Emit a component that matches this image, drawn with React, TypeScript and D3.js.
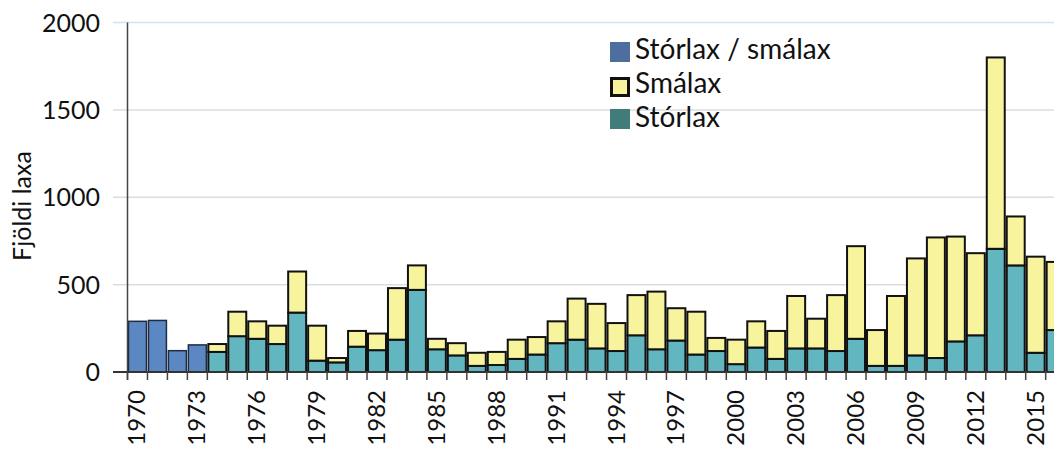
import React from "react";
import * as d3 from "d3";

const years = d3.range(1970, 2017);
// combined (Stórlax / smálax) for early years
const combined = [290, 295, 122, 155];
const storlax = [
  0, 0, 0, 0, 115, 205, 190, 160, 340, 65, 55, 145, 125, 185, 470, 130, 95, 35, 40, 75,
  100, 165, 185, 135, 120, 210, 130, 180, 100, 120, 45, 140, 75, 135, 135, 120, 190, 35, 35, 95,
  80, 175, 210, 705, 610, 110, 240,
];
const smalax = [
  0, 0, 0, 0, 45, 140, 100, 105, 235, 200, 25, 90, 95, 295, 140, 60, 70, 75, 75, 110,
  100, 125, 235, 255, 160, 230, 330, 185, 245, 75, 140, 150, 160, 300, 170, 320, 530, 205, 400, 555,
  690, 600, 470, 1095, 280, 550, 390,
];
const yTicks = [0, 500, 1000, 1500, 2000];
const xLabelYears = years.filter((y) => (y - 1970) % 3 === 0);
const legendItems = ["Stórlax / smálax", "Smálax", "Stórlax"];

const W = 1054;
const H = 450;
const left = 127.5;
const step = 19.96;
const FONT = "Lato, 'Open Sans', sans-serif";

const colBlue = "#5b88c2";
const colTeal = "#62b6bf";
const colYellow = "#f8f49e";

export default function App() {
  const x = d3
    .scaleBand<number>()
    .domain(years)
    .range([left, left + years.length * step])
    .paddingInner(0.1)
    .paddingOuter(0.05);
  const y = d3.scaleLinear().domain([0, 2000]).range([372, 22.5]);
  const bw = x.bandwidth();

  return (
    <svg
      width={W}
      height={H}
      style={{ position: "absolute", left: 0, top: 0, background: "#fff" }}
      fontFamily={FONT}
    >
      {/* gridlines */}
      {yTicks.map((t) => (
        <line
          key={"g" + t}
          x1={113}
          x2={W}
          y1={y(t)}
          y2={y(t)}
          stroke={t === 2000 ? "#cfe4ee" : "#d9dde3"}
          strokeWidth={1.5}
        />
      ))}
      {/* y tick labels */}
      {yTicks.map((t) => (
        <text
          key={"yl" + t}
          x={100}
          y={y(t) + 9}
          textAnchor="end"
          fontSize={25}
          fill="#111"
        >
          {t}
        </text>
      ))}
      {/* y axis title */}
      <text
        transform={`translate(31,206) rotate(-90)`}
        textAnchor="middle"
        fontSize={25}
        fill="#111"
      >
        Fjöldi laxa
      </text>

      {/* bars */}
      {years.map((yr, i) => {
        const x0 = x(yr)!;
        if (i < combined.length) {
          return (
            <rect
              key={"c" + yr}
              x={x0}
              y={y(combined[i])}
              width={bw}
              height={y(0) - y(combined[i])}
              fill={colBlue}
              stroke="#1d2c44"
              strokeWidth={1.5}
            />
          );
        }
        const s = storlax[i];
        const m = smalax[i];
        return (
          <g key={"b" + yr}>
            <rect
              x={x0}
              y={y(s)}
              width={bw}
              height={y(0) - y(s)}
              fill={colTeal}
              stroke="#111"
              strokeWidth={2}
            />
            <rect
              x={x0}
              y={y(s + m)}
              width={bw}
              height={y(s) - y(s + m)}
              fill={colYellow}
              stroke="#111"
              strokeWidth={2}
            />
          </g>
        );
      })}

      {/* axes */}
      <line x1={left} x2={left} y1={y(2000)} y2={y(0) + 8} stroke="#444" strokeWidth={1.5} />
      <line x1={113} x2={W} y1={y(0)} y2={y(0)} stroke="#333" strokeWidth={2} />
      {years.map((yr) => {
        const xb = x(yr)! - (x.step() * x.paddingInner()) / 2;
        return (
          <line
            key={"t" + yr}
            x1={xb}
            x2={xb}
            y1={y(0)}
            y2={y(0) + 8}
            stroke="#444"
            strokeWidth={1.5}
          />
        );
      })}
      {xLabelYears.map((yr) => (
        <text
          key={"xl" + yr}
          transform={`translate(${x(yr)! + bw / 2 + 8},${390}) rotate(-90)`}
          textAnchor="end"
          fontSize={24}
          fill="#111"
        >
          {yr}
        </text>
      ))}

      {/* legend */}
      <g>
        <rect x={610} y={42} width={20} height={20} fill="#4f6ea0" />
        <rect x={611.5} y={78.5} width={17} height={17} fill={colYellow} stroke="#111" strokeWidth={3} />
        <rect x={610} y={109} width={20} height={20} fill="#3f7c7a" />
        {legendItems.map((t, i) => (
          <text key={"lg" + t} x={635} y={59 + i * 34} fontSize={28} fill="#111">
            {t}
          </text>
        ))}
      </g>
    </svg>
  );
}
